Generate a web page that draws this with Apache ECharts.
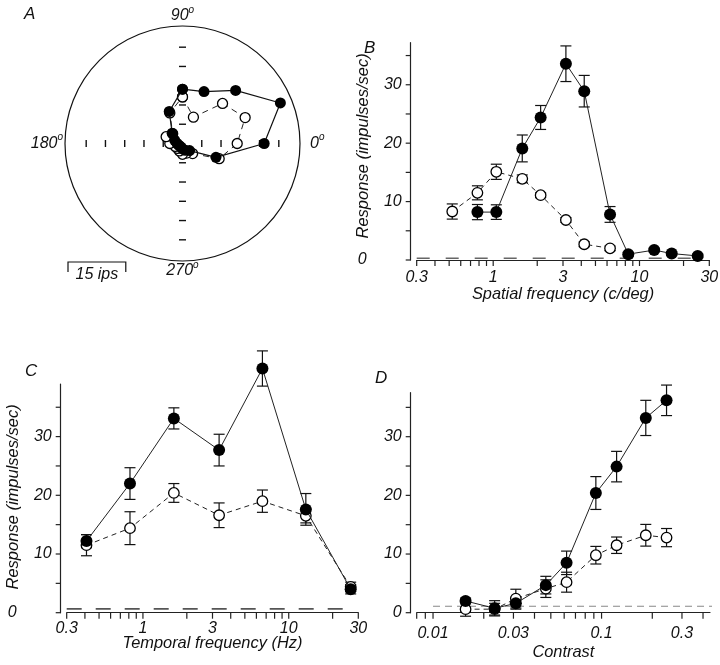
<!DOCTYPE html>
<html>
<head>
<meta charset="utf-8">
<script src="https://cdn.jsdelivr.net/npm/echarts@6/dist/echarts.min.js"></script>
<style>html,body{margin:0;padding:0;background:#fff}#main{width:720px;height:665px}</style>
</head>
<body>
<div id="main"></div>
<script>
// A: direction tuning (impulses/sec), 16 directions
var dirAngles = [90, 67.5, 45, 22.5, 0, 337.5, 315, 292.5, 270, 247.5, 225, 202.5, 180, 157.5, 135, 112.5];
var dirFilled = [14.1, 14.6, 19.5, 27.5, 21.2, 9.4, 2.6, 1.9, 1.4, 1.0, 1.0, 1.1, 1.4, 2.2, 3.8, 9.0];
var dirOpen = [12.1, 7.4, 14.7, 17.6, 14.2, 10.3, 3.7, 2.7, 2.8, 2.1, 1.8, 2.0, 3.3, 4.6, 3.6, 8.6];
var polarTicks = [5, 10, 15, 20, 25];
var polarTickAngles = [0, 90, 180, 270];
var polarMax = 30.5;
var scaleBarIps = 15;

// B: spatial frequency
var sfFilled = [0.78, 1.05, 1.58, 2.11, 3.14, 4.19, 6.29, 8.38, 12.6, 16.6, 25];
var sfFilledResp = [8.2, 8.2, 19.1, 24.4, 33.6, 28.9, 7.8, 1.0, 1.7, 1.1, 0.7];
var sfFilledErr = [1.3, 1.25, 2.3, 2.05, 3.05, 2.7, 1.35, 0.3, 0.3, 0.3, 0.3];
var sfOpen = [0.525, 0.78, 1.05, 1.58, 2.11, 3.14, 4.19, 6.29];
var sfOpenResp = [8.3, 11.5, 15.1, 13.9, 11.1, 6.85, 2.7, 2.0];
var sfOpenErr = [1.3, 1.2, 1.3, 0.66, 0.4, 0.4, 0.4, 0.4];

// C: temporal frequency
var tfFreq = [0.41, 0.815, 1.63, 3.33, 6.6, 13.1, 26.6];
var tfFilledResp = [12.2, 22.0, 33.1, 27.7, 41.6, 17.6, 4.0];
var tfFilledErr = [1.1, 2.7, 1.8, 2.7, 3.0, 2.7, 0.8];
var tfOpenResp = [11.5, 14.4, 20.4, 16.6, 19.0, 16.5, 4.4];
var tfOpenErr = [1.8, 2.8, 1.6, 2.1, 1.9, 1.2, 0.8];

// D: contrast
var conLevels = [0.0156, 0.0232, 0.031, 0.0467, 0.062, 0.0925, 0.1228, 0.183, 0.243];
var conFilledResp = [2.0, 0.75, 1.6, 4.7, 8.5, 20.4, 24.9, 33.2, 36.2];
var conFilledErr = [0.5, 1.3, 1.0, 1.5, 2.0, 2.8, 2.6, 3.0, 2.6];
var conOpenResp = [0.6, 0.6, 2.4, 4.1, 5.2, 9.8, 11.5, 13.2, 12.8];
var conOpenErr = [1.2, 1.0, 1.6, 1.5, 1.7, 1.5, 1.4, 1.85, 1.55];

// spontaneous rate (dashed lines)
var spontB = 0.3, spontBRange = [0.3, 26];
var spontC = 0.65, spontCRange = [0.3, 23.6];
var spontD = 1.1, spontDRange = [0.01, 0.5];

// ticks / labels
var freqTicks = [0.3, 0.4, 0.5, 0.6, 0.7, 0.8, 0.9, 1, 2, 3, 4, 5, 6, 7, 8, 9, 10, 20, 30];
var freqLabels = [0.3, 1, 3, 10, 30];
var conTicks = [0.008, 0.009, 0.01, 0.02, 0.03, 0.04, 0.05, 0.06, 0.07, 0.08, 0.09, 0.1, 0.2, 0.3, 0.4];
var conLabels = [0.01, 0.03, 0.1, 0.3];
var respTicks = [0, 5, 10, 15, 20, 25, 30, 35];
var respLabels = [0, 10, 20, 30];

var FONT = 'Liberation Sans';
var INK = '#111';
var AX = '#222';
var Y_OFFSET = 6;
var txt = {fontFamily: FONT, fontStyle: 'italic', fontSize: 16, color: INK};

function lg(a) { return a.map(function (v) { return Math.log10(v); }); }
function pairs(xs, ys) { return xs.map(function (x, i) { return [Math.log10(x), ys[i]]; }); }
function triples(xs, ys, es) { return xs.map(function (x, i) { return [Math.log10(x), ys[i], es[i]]; }); }
function polarPts(rs, as) {
    var d = rs.map(function (r, i) { return [r, as[i]]; });
    d.push(d[0]);
    return d;
}
function fmtLog(v) { return String(+Math.pow(10, v).toPrecision(1)); }

function errBar(params, api) {
    var x = api.value(0), y = api.value(1), e = api.value(2);
    var hi = api.coord([x, y + e]), lo = api.coord([x, y - e]);
    var w = 5.5;
    var st = {stroke: INK, lineWidth: 1.2};
    return {type: 'group', children: [
        {type: 'line', shape: {x1: hi[0], y1: hi[1], x2: lo[0], y2: lo[1]}, style: st},
        {type: 'line', shape: {x1: hi[0] - w, y1: hi[1], x2: hi[0] + w, y2: hi[1]}, style: st},
        {type: 'line', shape: {x1: lo[0] - w, y1: lo[1], x2: lo[0] + w, y2: lo[1]}, style: st}
    ]};
}

// axis ticks drawn through the axes' own scales
function xTick(params, api) {
    var p = api.coord([api.value(0), api.value(1)]);
    return {type: 'line', shape: {x1: p[0], y1: p[1], x2: p[0], y2: p[1] + 6},
        style: {stroke: AX, lineWidth: 1.2}};
}
function yTick(params, api) {
    var p = api.coord([api.value(0), api.value(1)]);
    var ax = p[0] - Y_OFFSET;
    return {type: 'line', shape: {x1: ax, y1: p[1], x2: ax - 5, y2: p[1]},
        style: {stroke: AX, lineWidth: 1.2}};
}
function tickSeries(i, fn, data) {
    return {type: 'custom', xAxisIndex: i, yAxisIndex: i, data: data, renderItem: fn,
        encode: {x: 0, y: 1}, clip: false, z: 3, silent: true};
}
function xTickData(ticks) { return ticks.map(function (t) { return [Math.log10(t), 0]; }); }
function yTickData(xmin) { return respTicks.map(function (v) { return [Math.log10(xmin), v]; }); }

function crossTick(params, api) {
    var a = api.value(1);
    var p = api.coord([api.value(0), a]);
    var h = 3.5;
    var vert = (a % 180 === 0);
    return {type: 'line',
        shape: vert ? {x1: p[0], y1: p[1] - h, x2: p[0], y2: p[1] + h}
                    : {x1: p[0] - h, y1: p[1], x2: p[0] + h, y2: p[1]},
        style: {stroke: INK, lineWidth: 1.4}};
}

function scaleBar(params, api) {
    var c = api.coord([0, 0]);
    var R = api.coord([polarMax, 0])[0] - c[0];
    var len = api.coord([api.value(0), 0])[0] - c[0];
    var x0 = c[0] - R + 3, y0 = c[1] + R + 1;
    return {type: 'group', children: [
        {type: 'polyline', shape: {points: [[x0, y0 + 10], [x0, y0], [x0 + len, y0], [x0 + len, y0 + 10]]},
            style: {stroke: INK, lineWidth: 1.2, fill: null}},
        {type: 'text', x: x0 + len / 2, y: y0 + 13,
            style: {text: api.value(0) + ' ips', fontFamily: FONT, fontStyle: 'italic', fontSize: 16,
                fill: INK, align: 'center', verticalAlign: 'middle'}}
    ]};
}

function xLog(grid, lo, hi, labels, margin, name, gap) {
    return {
        type: 'value', gridIndex: grid, min: Math.log10(lo), max: Math.log10(hi),
        name: name, nameLocation: 'middle', nameGap: gap, nameMoveOverlap: false,
        nameTextStyle: Object.assign({}, txt, {fontSize: 16.4}),
        axisLine: {show: true, onZero: false, lineStyle: {color: AX, width: 1.2}},
        axisTick: {show: false},
        axisLabel: Object.assign({customValues: lg(labels), margin: margin, formatter: fmtLog}, txt),
        splitLine: {show: false}
    };
}

function yResp(grid, max, name, zeroPad, namePad) {
    return {
        type: 'value', gridIndex: grid, min: 0, max: max, offset: Y_OFFSET,
        name: name, nameLocation: 'middle', nameGap: 39, nameMoveOverlap: false,
        nameTextStyle: Object.assign({padding: [0, 0, 0, namePad]}, txt, {fontSize: 16.5}),
        axisLine: {show: true, onZero: false, lineStyle: {color: AX, width: 1.2}},
        axisTick: {show: false},
        axisLabel: Object.assign({
            customValues: respLabels, margin: 9,
            formatter: function (v) { return v === 0 ? '{z|0}' : String(v); },
            rich: {z: Object.assign({padding: [0, zeroPad, 0, 0]}, txt)}
        }, txt),
        splitLine: {show: false}
    };
}

function filledLine(xi, data) {
    return {type: 'line', xAxisIndex: xi, yAxisIndex: xi, data: data, clip: false,
        symbol: 'circle', symbolSize: 12, itemStyle: {color: '#000'},
        lineStyle: {color: '#222', width: 1}, z: 6, silent: true};
}
function openLine(xi, data) {
    return {type: 'line', xAxisIndex: xi, yAxisIndex: xi, data: data, clip: false,
        symbol: 'circle', symbolSize: 10.5, itemStyle: {color: '#fff', borderColor: '#000', borderWidth: 1.3},
        lineStyle: {color: '#222', width: 1, type: [5, 4]}, z: 5, silent: true};
}
function errSeries(xi, data) {
    return {type: 'custom', xAxisIndex: xi, yAxisIndex: xi, data: data, renderItem: errBar,
        encode: {x: 0, y: 1}, clip: false, z: 4, silent: true};
}
function spontLine(xi, range, level, color, dash, width) {
    return {type: 'line', xAxisIndex: xi, yAxisIndex: xi, symbol: 'none', clip: false,
        data: pairs(range, [level, level]), lineStyle: {color: color, width: width, type: dash},
        z: 2, silent: true};
}

var crossData = [];
polarTickAngles.forEach(function (a) {
    polarTicks.forEach(function (r) { crossData.push([r, a]); });
});

var angleRich = {
    n: Object.assign({}, txt, {lineHeight: 16, verticalAlign: 'bottom'}),
    r: Object.assign({}, txt, {lineHeight: 16, verticalAlign: 'bottom', padding: [0, 0, 0, 8]}),
    s: {fontFamily: FONT, fontStyle: 'italic', fontSize: 10, lineHeight: 10, color: INK, padding: [0, 0, 12, 0]}
};

var letterStyle = {fontFamily: FONT, fontStyle: 'italic', fontWeight: 'normal', fontSize: 17, color: INK};

var myChart = echarts.init(document.getElementById('main'));
var option = {
    animation: false,
    backgroundColor: '#fff',
    title: [
        {text: 'A', left: 19, top: 1, textStyle: letterStyle},
        {text: 'B', left: 359, top: 35, textStyle: letterStyle},
        {text: 'C', left: 20, top: 358, textStyle: letterStyle},
        {text: 'D', left: 370, top: 365, textStyle: letterStyle}
    ],
    polar: {center: [182.5, 143.5], radius: 117.5},
    angleAxis: {
        type: 'value', min: 0, max: 360, interval: 90, startAngle: 0, clockwise: false,
        axisLine: {lineStyle: {color: INK, width: 1.2}},
        axisTick: {show: false}, splitLine: {show: false},
        axisLabel: {
            margin: 2, rich: angleRich,
            formatter: function (v) {
                if (v === 360) return '';
                return (v === 0 ? '{r|' : '{n|') + v + '}{s|o}';
            }
        }
    },
    radiusAxis: {
        type: 'value', min: 0, max: polarMax,
        axisLine: {show: false}, axisTick: {show: false}, axisLabel: {show: false}, splitLine: {show: false}
    },
    grid: [
        {left: 416.7, right: 10.7, top: 42.7, bottom: 405, outerBoundsMode: 'none'},
        {left: 66.7, right: 361.7, top: 384, bottom: 52.3, outerBoundsMode: 'none'},
        {left: 416.7, right: 10, top: 392.7, bottom: 52.3, outerBoundsMode: 'none'}
    ],
    xAxis: [
        xLog(0, 0.3, 30, freqLabels, 10, 'Spatial frequency (c/deg)', 26),
        xLog(1, 0.3, 30, freqLabels, 8, 'Temporal frequency (Hz)', 23),
        xLog(2, 0.008, 0.44, conLabels, 13, 'Contrast', 32)
    ],
    yAxis: [
        yResp(0, 37.2, 'Response (impulses/sec)', 35, 11),
        yResp(1, 38.96, 'Response (impulses/sec)', 35, 3),
        yResp(2, 37.5, '', 0, 0)
    ],
    series: [
        // A
        {type: 'custom', coordinateSystem: 'polar', data: crossData, encode: {radius: 0, angle: 1},
            renderItem: crossTick, z: 2, silent: true},
        {type: 'custom', coordinateSystem: 'polar', data: [[scaleBarIps, 0]], encode: {radius: 0, angle: 1},
            renderItem: scaleBar, z: 2, silent: true},
        {type: 'line', coordinateSystem: 'polar', data: polarPts(dirOpen, dirAngles),
            symbol: 'circle', symbolSize: 10, itemStyle: {color: '#fff', borderColor: '#000', borderWidth: 1.3},
            lineStyle: {color: '#222', width: 1, type: [6, 5]}, z: 5, silent: true},
        {type: 'line', coordinateSystem: 'polar', data: polarPts(dirFilled, dirAngles),
            symbol: 'circle', symbolSize: 11, itemStyle: {color: '#000'},
            lineStyle: {color: '#111', width: 1.2}, z: 6, silent: true},
        // B
        tickSeries(0, xTick, xTickData(freqTicks)),
        tickSeries(0, yTick, yTickData(0.3)),
        spontLine(0, spontBRange, spontB, '#666', [13, 16], 1.6),
        errSeries(0, triples(sfOpen, sfOpenResp, sfOpenErr)),
        errSeries(0, triples(sfFilled, sfFilledResp, sfFilledErr)),
        openLine(0, pairs(sfOpen, sfOpenResp)),
        filledLine(0, pairs(sfFilled, sfFilledResp)),
        // C
        tickSeries(1, xTick, xTickData(freqTicks)),
        tickSeries(1, yTick, yTickData(0.3)),
        spontLine(1, spontCRange, spontC, '#555', [15, 14], 1.6),
        errSeries(1, triples(tfFreq, tfOpenResp, tfOpenErr)),
        errSeries(1, triples(tfFreq, tfFilledResp, tfFilledErr)),
        openLine(1, pairs(tfFreq, tfOpenResp)),
        filledLine(1, pairs(tfFreq, tfFilledResp)),
        // D
        tickSeries(2, xTick, xTickData(conTicks)),
        tickSeries(2, yTick, yTickData(0.008)),
        spontLine(2, spontDRange, spontD, '#888', [7, 5], 1.2),
        errSeries(2, triples(conLevels, conOpenResp, conOpenErr)),
        errSeries(2, triples(conLevels, conFilledResp, conFilledErr)),
        openLine(2, pairs(conLevels, conOpenResp)),
        filledLine(2, pairs(conLevels, conFilledResp))
    ]
};
myChart.setOption(option);
</script>
</body>
</html>
